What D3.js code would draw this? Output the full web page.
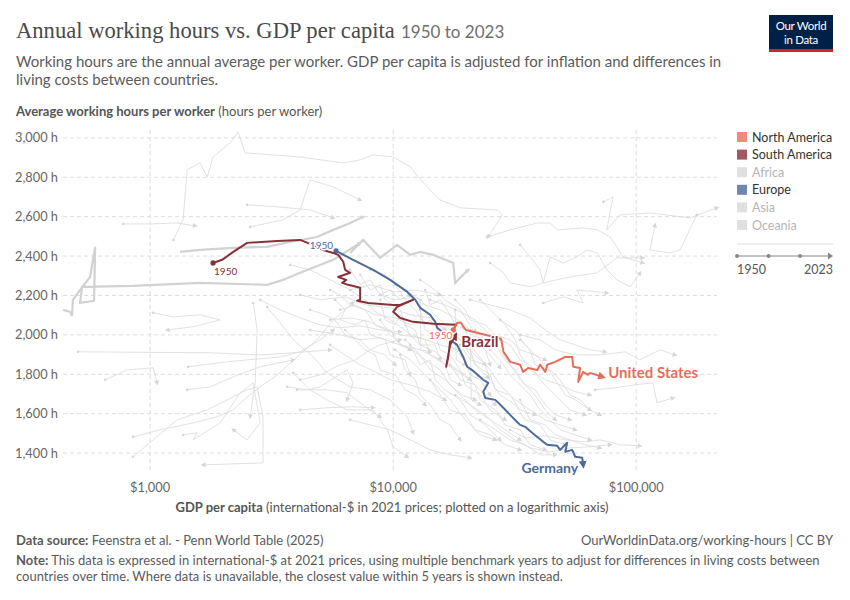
<!DOCTYPE html>
<html>
<head>
<meta charset="utf-8">
<script src="https://cdn.jsdelivr.net/npm/d3@7"></script>
<style>
  body { margin: 0; background: #fff; }
  svg { font-family: Lato, "Noto Sans", sans-serif; }
</style>
</head>
<body>
<svg id="chart" width="850" height="600"></svg>
<script>
// axis ticks
var xTicks = [1000, 10000, 100000];
var yTicks = [1400, 1600, 1800, 2000, 2200, 2400, 2600, 2800, 3000];

var continents = ["North America", "South America", "Africa", "Europe", "Asia", "Oceania"];
var continentColors = ["#E56E5A", "#883039", "#e0e0e0", "#4C6A9C", "#e0e0e0", "#e0e0e0"];
var activeContinents = ["North America", "South America", "Europe"];

// highlighted countries: [gdp per capita, hours]
var brazil = [[1815,2365],[1978,2381],[2198,2421],[2506,2467],[3336,2477],[4142,2482],[4552,2462],[5152,2431],[5666,2416],[5940,2406],[6230,2371],[6345,2330],[6653,2315],[5940,2294],[6410,2279],[6170,2264],[6530,2254],[7313,2239],[7313,2178],[7110,2173],[7890,2162],[10000,2152],[10690,2152],[12080,2178],[10380,2142],[10000,2117],[10690,2086],[12080,2066],[14630,2056],[18170,2051],[17330,2010],[16830,1883],[16520,1838],[17160,1949],[17990,1995]];
var germany = [[5821,2426],[6840,2381],[8272,2330],[9724,2279],[11430,2218],[12330,2178],[12920,2137],[14200,2102],[14890,2066],[15180,2036],[16370,2000],[17160,1975],[18320,1949],[19410,1888],[20170,1838],[21350,1817],[23470,1772],[24600,1756],[23470,1711],[23920,1680],[26310,1670],[28120,1635],[30290,1594],[32360,1558],[33300,1543],[34920,1533],[37300,1503],[39170,1482],[41440,1457],[43040,1442],[47320,1437],[48630,1416],[52010,1452],[51050,1406],[54540,1416],[56130,1381],[59980,1376],[60500,1340]];
var unitedStates = [[17670,2025],[18320,2061],[19060,2061],[19410,2041],[19950,2025],[27810,1980],[28430,1914],[30290,1863],[33300,1848],[34270,1812],[35940,1832],[39170,1822],[40240,1848],[42270,1812],[43040,1848],[46450,1863],[51050,1888],[54540,1888],[55080,1838],[58770,1832],[57700,1761],[60500,1812],[63300,1797],[64600,1807],[72440,1787]];

// other countries, greyed out (thick ones first)
var greyThick = [
  [[438,2127],[469,2117],[477,2096],[481,2178],[515,2228],[566,2294],[594,2447],[588,2173],[515,2162],[525,2244],[851,2249],[1606,2264],[3030,2254],[3520,2279],[4142,2315],[5666,2381],[7313,2467]],
  [[1328,2421],[1606,2431],[2198,2442],[3030,2447],[3767,2472],[4860,2497],[5666,2533],[6653,2568],[7520,2599]],
  [[6653,2416],[7520,2482],[8845,2391],[10380,2457],[11750,2406],[12920,2421],[14630,2406],[17670,2365],[17990,2264],[20350,2330]]
];
var greyThin = [
  [[1246,2482],[1367,2584],[1420,2838],[1606,2873],[1718,2802],[1815,2903],[2134,2975],[2300,3030],[2459,2924],[4142,2903],[6230,2873],[7313,2888],[8272,2914],[10000,2903],[11750,2853],[12680,2802],[13810,2751],[15610,2685],[18870,2645],[26850,2634],[28120,2609],[24600,2497]],
  [[774,2563],[1000,2563],[1292,2568],[1532,2553]],
  [[2506,2660],[3336,2650],[4552,2634],[5666,2594]],
  [[2580,2548],[3520,2584],[4142,2634],[4552,2787],[5666,2751],[7313,2685]],
  [[24320,2497],[30290,2533],[39170,2568],[44240,2568],[47320,2533],[60500,2543],[69160,2533],[78070,2497],[83270,2447],[88000,2396],[106500,2365]],
  [[73300,2675],[80400,2701],[78070,2624],[75800,2533],[85830,2609],[114000,2619],[166500,2594],[215000,2645]],
  [[177600,2609],[151400,2431],[137700,2416],[114000,2431],[119400,2558]],
  [[33300,2457],[36600,2396],[40240,2330],[41440,2264],[44240,2396],[50050,2365],[57040,2396],[62700,2431],[69160,2416],[75800,2330],[83270,2279],[94350,2244],[103700,2315]],
  [[25060,2365],[28430,2315],[30290,2264],[36600,2244],[43040,2269],[53460,2294],[69160,2315],[83270,2391],[106500,2391]],
  [[41440,2162],[50050,2193],[60500,2162],[57040,2228],[75800,2213]],
  [[1029,2112],[1246,2091],[1606,2102],[1941,2076],[1503,2041],[1175,2025]],
  [[505,1914],[1766,1909],[2836,1898],[3880,1909],[5505,1924]],
  [[653,1772],[804,1822],[1029,1833],[1069,1756]],
  [[1433,1838],[2075,1863],[2506,1873],[3118,1883],[3428,1888],[4142,1914],[5008,1975],[5666,2025]],
  [[851,1482],[1099,1518],[1503,1553],[1887,1584],[2198,1619],[2506,1685],[2836,1736],[3336,1797],[4020,1888],[4860,1975],[5666,2076],[6840,2162]],
  [[851,1381],[1029,1467],[1292,1569],[1718,1619],[2198,1685],[2506,1721],[2757,1736],[2914,1584],[2914,1350],[1652,1340]],
  [[1367,1492],[1560,1503],[1503,1467],[1941,1553],[2344,1706],[2655,1756],[2836,1553],[2506,1467],[2198,1518]],
  [[2655,2162],[2757,2025],[2705,1756],[2580,1584]],
  [[3030,2142],[3428,2061],[3880,1975],[4690,1888],[5340,1807],[6653,1736],[8036,1721],[9724,1670],[11430,1584],[12080,1503]],
  [[4020,1721],[5340,1721],[6460,1706],[7800,1630],[8845,1584]],
  [[4142,1619],[5340,1630],[6840,1635],[8272,1630]],
  [[3660,1736],[4425,1721],[5008,1736],[6460,1822],[6840,1756],[6460,1670]],
  [[1420,1721],[1766,1736],[2198,1787],[2836,1838],[3880,1873]],
  [[3880,1807],[4552,1721],[5340,1670],[6460,1619],[8272,1619],[9450,1518],[10000,1432],[11430,1381]],
  [[4142,2203],[5008,2178],[6345,2193],[7670,2152],[9724,2137],[11750,2102],[14200,2086],[16370,2025]],
  [[5505,2076],[6653,2086],[8036,2066],[9270,2025],[10690,2000],[12920,1985],[15610,1949],[18870,1924]],
  [[4552,2025],[6052,2000],[7313,1975],[8845,1985],[10690,1949],[12920,1924],[15610,1873],[17990,1822],[20740,1772]],
  [[6653,2228],[7670,2178],[8435,2117],[9724,2076],[11200,2025],[12920,1949],[14890,1914],[17160,1848],[19780,1797],[22800,1721],[26310,1645]],
  [[8845,2203],[10190,2178],[11750,2188],[13540,2152],[15610,2127],[17990,2086],[20740,2025],[22800,1949],[25060,1898],[27550,1833]],
  [[11200,1975],[12920,1898],[14200,1822],[16370,1772],[18870,1695],[21740,1619],[25060,1569],[28910,1518],[33300,1467]],
  [[14200,2178],[16370,2152],[18870,2117],[21740,2076],[25060,2000],[27550,1924],[30290,1848],[33300,1772],[38380,1695],[42270,1619],[46450,1569]],
  [[20740,1949],[22800,1883],[25060,1822],[27550,1746],[31770,1670],[36600,1619],[42270,1569],[48630,1543],[56130,1518]],
  [[17990,1695],[20740,1645],[23920,1594],[27550,1518],[31770,1467],[36600,1426],[44240,1406],[53460,1426],[64600,1432],[78070,1442]],
  [[27550,2076],[31770,2025],[34920,1949],[38380,1898],[42270,1848],[46450,1772],[51050,1695],[56130,1670],[64600,1619]],
  [[20740,2178],[25060,2152],[30290,2127],[36600,2086],[42270,2025],[48630,1975],[56130,1949],[64600,1924],[74470,1914]],
  [[33300,2000],[40240,1975],[46450,1924],[56130,1898],[71020,1898],[90150,1914],[103700,1873],[125300,1924],[144500,1898]],
  [[67760,1721],[82000,1731],[97400,1746],[117000,1756],[121700,1655],[141900,1680]],
  [[6653,1569],[8036,1543],[9724,1518],[11750,1467],[14200,1416],[17160,1391],[20740,1376]],
  [[12920,2279],[14890,2228],[16370,2178],[18870,2127],[20740,2051],[22370,1975]],
  [[10190,1924],[11750,1873],[13540,1797],[15610,1721],[17160,1670],[19780,1569],[22800,1492],[26310,1467]],
  [[2836,2178],[3428,2127],[4142,2086],[5008,2051],[6052,2036],[7313,2046],[8845,2025],[10690,2015]],
  [[5505,1949],[6345,1898],[7313,1848],[8435,1812],[9724,1772],[11750,1746],[14200,1711],[16370,1670]],
  [[30290,1518],[34920,1477],[42270,1487],[51050,1467],[61630,1457],[71020,1467],[85830,1442],[103700,1437]],
  [[22800,2178],[26310,2102],[28910,2051],[31770,1975],[33300,1898],[36600,1822],[42270,1772],[48630,1746],[56130,1711],[64600,1695]],
  [[3767,2355],[4552,2330],[5505,2279],[6653,2228],[8036,2254],[10190,2218],[12330,2228],[15610,2203]],
  [[8036,2330],[9270,2305],[10190,2254],[11200,2228],[12920,2178],[15610,2076],[17990,2000],[19780,1949],[21740,1898],[23920,1848]],
  [[6052,2127],[6980,2152],[8435,2102],[10190,2086],[11750,2051],[13540,2066],[16370,2036],[18870,1975],[20740,1898],[22370,1833],[24600,1782]],
  [[8845,2076],[9724,2000],[10890,1949],[12330,1914],[13540,1873],[15610,1822],[17160,1746],[19240,1695],[21740,1670]],
  [[4142,1772],[5008,1797],[6052,1848],[6980,1873],[8036,1924],[8845,1949],[10690,1975]],
  [[5770,2178],[6345,2127],[6052,2076],[6980,2051],[7670,2076],[8036,2000],[9270,1975],[9724,1898],[11200,1873],[11750,1797]],
  [[7313,2305],[8036,2228],[8845,2254],[9270,2178],[10690,2127],[11200,2051],[12330,2025],[12920,1949],[14890,1949],[15610,1873]],
  [[8845,2178],[9270,2076],[10190,2051],[10690,2102],[11750,2000],[13540,1975],[14200,1898],[16370,1848],[17160,1772],[18870,1746]],
  [[10190,2254],[11200,2178],[12330,2127],[13540,2051],[14200,2076],[16370,1975],[17990,1924],[19780,1873],[20740,1797],[22800,1772],[25060,1695]],
  [[12920,2127],[13540,2025],[14890,2000],[15610,1924],[17160,1898],[18870,1822],[19780,1746],[22800,1695],[25060,1619],[28910,1569]],
  [[11750,1949],[12920,1848],[14200,1873],[14890,1772],[16370,1721],[18870,1670],[20740,1594],[23920,1543],[27550,1467]],
  [[15610,2025],[17160,2000],[17990,1949],[20740,1924],[21740,1848],[25060,1797],[26310,1721],[30290,1695],[33300,1619],[38380,1594]],
  [[18870,1949],[20740,1873],[23920,1848],[25060,1772],[27550,1695],[31770,1645],[34920,1569],[40240,1543],[44240,1467],[51050,1442]],
  [[21740,2025],[23920,1975],[26310,1949],[28910,1873],[31770,1822],[34920,1746],[38380,1721],[42270,1645],[46450,1594],[53460,1569]],
  [[17160,1848],[18870,1772],[21740,1746],[22800,1670],[26310,1619],[28910,1543],[33300,1518],[36600,1442],[42270,1416]],
  [[25060,1924],[27550,1873],[30290,1797],[33300,1746],[36600,1695],[40240,1619],[44240,1569],[48630,1518],[56130,1492],[64600,1467]],
  [[27550,1975],[30290,1949],[33300,1873],[36600,1848],[40240,1772],[44240,1721],[48630,1670],[53460,1619],[61630,1594]],
  [[14200,1772],[15610,1695],[17160,1619],[19780,1594],[21740,1518],[25060,1492],[28910,1442],[33300,1416]],
  [[6345,2025],[6980,1975],[7670,1924],[8435,1898],[8845,1822],[10190,1797],[11200,1721],[12330,1695],[13540,1645]],
  [[4552,2127],[5250,2102],[5770,2076],[6345,2000],[7313,1975],[8036,1924],[9270,1898],[10190,1848]],
  [[13540,2228],[14200,2152],[15610,2178],[17160,2102],[17990,2051],[19780,2025],[20740,1975],[23920,1924],[25060,1848]],
  [[33300,1975],[36600,1924],[38380,1848],[44240,1822],[48630,1772],[53460,1695],[58770,1670],[64600,1619],[71020,1594]],
  [[10690,1898],[11200,1822],[12330,1772],[12920,1695],[14200,1645],[15610,1569],[17160,1543],[18870,1467]],
  [[5505,2228],[6052,2203],[6653,2152],[7670,2127],[8435,2051],[9724,2025],[10690,1949],[11750,1924]],
  [[17990,2178],[19780,2127],[20740,2076],[23920,2051],[26310,2000],[30290,1975],[33300,1924],[38380,1898],[42270,1873]],
  [[12920,2178],[13010,1924],[14200,1914]],
  [[17990,2127],[18180,1873],[19780,1848]],
  [[20740,2025],[20950,1670],[22800,1645]],
  [[6653,2330],[7313,2254],[8036,2279],[8845,2203],[9724,2228],[10690,2178],[11750,2203]],
  [[33300,1670],[36600,1569],[42270,1543],[46450,1492],[53460,1467],[61630,1442],[71020,1426]],
  [[22800,1569],[26310,1518],[30290,1467],[34920,1442],[40240,1391],[46450,1391]]
];

var svg = d3.select("#chart");

// header
var title = svg.append("text")
    .attr("x", 16).attr("y", 38)
    .style("font-family", "'Liberation Serif', 'DejaVu Serif', serif")
    .style("font-size", "26px")
    .style("fill", "#4a4a4a")
    .text("Annual working hours vs. GDP per capita");
var tw = title.node().getComputedTextLength();
title.style("font-size", (26 * 379 / tw) + "px");

svg.append("text")
    .attr("x", 401).attr("y", 38)
    .style("font-size", "17px")
    .style("fill", "#6e6e6e")
    .text("1950 to 2023");

var subtitle = ["Working hours are the annual average per worker. GDP per capita is adjusted for inflation and differences in",
                "living costs between countries."];
svg.selectAll(".sub").data(subtitle).enter().append("text")
    .attr("x", 16).attr("y", function(d, i) { return 67 + i * 18; })
    .style("font-size", "15px")
    .style("fill", "#5b5b5b")
    .text(function(d) { return d; });

// logo
var logo = svg.append("g").attr("transform", "translate(769,15)");
logo.append("rect").attr("width", 64).attr("height", 37).attr("fill", "#002147");
logo.append("rect").attr("y", 34).attr("width", 64).attr("height", 3).attr("fill", "#ce261e");
logo.append("text").attr("x", 32).attr("y", 15).attr("text-anchor", "middle")
    .style("font-size", "11.5px").style("fill", "#fff").style("letter-spacing", "-0.3px").text("Our World");
logo.append("text").attr("x", 32).attr("y", 29).attr("text-anchor", "middle")
    .style("font-size", "11.5px").style("fill", "#fff").style("letter-spacing", "-0.3px").text("in Data");

// y axis title
var yt = svg.append("text").attr("x", 16).attr("y", 116).style("font-size", "13px").style("fill", "#555");
yt.append("tspan").style("font-weight", 700).text("Average working hours per worker");
yt.append("tspan").text(" (hours per worker)");

// scales
var x = d3.scaleLog().domain([438, 215000]).range([63, 717]);
var y = d3.scaleLinear().domain([1314, 3040]).range([470, 130]);

// grid
svg.append("g").selectAll("line").data(yTicks).enter().append("line")
    .attr("x1", 63).attr("x2", 717)
    .attr("y1", function(d) { return y(d); }).attr("y2", function(d) { return y(d); })
    .attr("stroke", "#ddd").attr("stroke-dasharray", "4,3");
svg.append("g").selectAll("line").data(xTicks).enter().append("line")
    .attr("x1", function(d) { return x(d); }).attr("x2", function(d) { return x(d); })
    .attr("y1", 130).attr("y2", 470)
    .attr("stroke", "#ddd").attr("stroke-dasharray", "4,3");

svg.append("g").selectAll("text").data(yTicks).enter().append("text")
    .attr("x", 58).attr("y", function(d) { return y(d) + 4.5; })
    .attr("text-anchor", "end")
    .style("font-size", "12.8px").style("fill", "#666")
    .text(function(d) { return d3.format(",")(d) + " h"; });
svg.append("g").selectAll("text").data(xTicks).enter().append("text")
    .attr("x", function(d) { return x(d); }).attr("y", 492)
    .attr("text-anchor", "middle")
    .style("font-size", "12.8px").style("fill", "#666")
    .text(function(d) { return "$" + d3.format(",")(d); });

var xt = svg.append("text").attr("x", 392).attr("y", 512).attr("text-anchor", "middle")
    .style("font-size", "13px").style("fill", "#555");
xt.append("tspan").style("font-weight", 700).text("GDP per capita");
xt.append("tspan").text(" (international-$ in 2021 prices; plotted on a logarithmic axis)");

// markers
var defs = svg.append("defs");
function arrow(id, color, size) {
  defs.append("marker").attr("id", id)
      .attr("viewBox", "0 0 10 10").attr("refX", 5).attr("refY", 5)
      .attr("markerWidth", size).attr("markerHeight", size)
      .attr("markerUnits", "userSpaceOnUse")
      .attr("orient", "auto")
    .append("path").attr("d", "M0,0L10,5L0,10z").attr("fill", color);
}
arrow("a-grey", "#d6d6d6", 5);
arrow("a-na", continentColors[0], 8);
arrow("a-sa", continentColors[1], 8);
arrow("a-eu", continentColors[3], 8);

var line = d3.line().x(function(d) { return x(d[0]); }).y(function(d) { return y(d[1]); });

var plot = svg.append("g");

plot.selectAll(".thin").data(greyThin).enter().append("path")
    .attr("d", line).attr("fill", "none")
    .attr("stroke", "#d9d9d9").attr("stroke-width", 0.8)
    .attr("marker-end", "url(#a-grey)");
plot.selectAll(".thinDot").data(greyThin).enter().append("circle")
    .attr("cx", function(d) { return x(d[0][0]); })
    .attr("cy", function(d) { return y(d[0][1]); })
    .attr("r", 1.3).attr("fill", "#d6d6d6");
plot.selectAll(".thick").data(greyThick).enter().append("path")
    .attr("d", line).attr("fill", "none")
    .attr("stroke", "#d2d2d2").attr("stroke-width", 2.2)
    .attr("marker-end", "url(#a-grey)");

var highlighted = [
  {name: "Germany", data: germany, color: continentColors[3], marker: "a-eu"},
  {name: "Brazil", data: brazil, color: continentColors[1], marker: "a-sa"},
  {name: "United States", data: unitedStates, color: continentColors[0], marker: "a-na"}
];

highlighted.forEach(function(c) {
  plot.append("path").datum(c.data)
      .attr("d", line).attr("fill", "none")
      .attr("stroke", c.color).attr("stroke-width", 2)
      .attr("stroke-linejoin", "round")
      .attr("marker-end", "url(#" + c.marker + ")");
  plot.append("circle")
      .attr("cx", x(c.data[0][0])).attr("cy", y(c.data[0][1]))
      .attr("r", 2.6).attr("fill", c.color);
});

function halo(sel) {
  return sel.style("paint-order", "stroke").attr("stroke", "#fff")
      .attr("stroke-width", 3).attr("stroke-linejoin", "round");
}

// start year labels
halo(plot.append("text").attr("x", x(brazil[0][0]) + 1).attr("y", y(brazil[0][1]) + 12)
    .style("font-size", "10px").style("fill", continentColors[1]).text("1950"));
halo(plot.append("text").attr("x", x(germany[0][0]) - 3).attr("y", y(germany[0][1]) - 2)
    .attr("text-anchor", "end")
    .style("font-size", "10px").style("fill", continentColors[3]).text("1950"));
halo(plot.append("text").attr("x", x(unitedStates[0][0]) - 1).attr("y", y(unitedStates[0][1]) + 9)
    .attr("text-anchor", "end")
    .style("font-size", "10px").style("fill", continentColors[0]).text("1950"));

// end labels
var bEnd = brazil[brazil.length - 1], gEnd = germany[germany.length - 1], uEnd = unitedStates[unitedStates.length - 1];
halo(plot.append("text").attr("x", x(bEnd[0]) + 6).attr("y", y(bEnd[1]) + 11)
    .style("font-size", "15px").style("font-weight", 700).style("fill", continentColors[1]).text("Brazil"));
halo(plot.append("text").attr("x", x(uEnd[0]) + 6).attr("y", y(uEnd[1]) + 1)
    .style("font-size", "15px").style("font-weight", 700).style("fill", continentColors[0]).text("United States"));
halo(plot.append("text").attr("x", x(gEnd[0]) - 5).attr("y", y(gEnd[1]) + 8)
    .attr("text-anchor", "end")
    .style("font-size", "14px").style("font-weight", 700).style("fill", continentColors[3]).text("Germany"));

// legend
var legend = svg.append("g").attr("transform", "translate(737,132)");
var item = legend.selectAll("g").data(continents).enter().append("g")
    .attr("transform", function(d, i) { return "translate(0," + (i * 17.6) + ")"; });
item.append("rect").attr("width", 10).attr("height", 10)
    .attr("fill", function(d, i) { return continentColors[i]; })
    .attr("opacity", function(d) { return activeContinents.indexOf(d) >= 0 ? 0.8 : 1; });
item.append("text").attr("x", 15).attr("y", 9.5)
    .style("font-size", "12.5px")
    .style("fill", function(d) { return activeContinents.indexOf(d) >= 0 ? "#333" : "#b5b5b5"; })
    .text(function(d) { return d; });

legend.append("line").attr("x1", 0).attr("x2", 96).attr("y1", 112).attr("y2", 112).attr("stroke", "#ddd");
var years = [1950, 2023];
var tl = d3.scaleLinear().domain(years).range([0, 96]);
legend.append("line").attr("x1", tl(1950)).attr("x2", tl(2023) - 4).attr("y1", 124).attr("y2", 124)
    .attr("stroke", "#888").attr("stroke-width", 1);
legend.append("path").attr("d", "M" + (tl(2023) - 5) + ",120.5L" + tl(2023) + ",124L" + (tl(2023) - 5) + ",127.5z").attr("fill", "#888");
legend.selectAll(".dot").data([1950, 1974, 1998]).enter().append("circle")
    .attr("cx", function(d) { return tl(d); }).attr("cy", 124).attr("r", 2).attr("fill", "#888");
legend.append("text").attr("x", 0).attr("y", 142).style("font-size", "12.5px").style("fill", "#555").text("1950");
legend.append("text").attr("x", 96).attr("y", 142).attr("text-anchor", "end").style("font-size", "12.5px").style("fill", "#555").text("2023");

// footer
var src = svg.append("text").attr("x", 16).attr("y", 545).style("font-size", "13px").style("fill", "#5b5b5b");
src.append("tspan").style("font-weight", 700).text("Data source:");
src.append("tspan").text(" Feenstra et al. - Penn World Table (2025)");
svg.append("text").attr("x", 833).attr("y", 545).attr("text-anchor", "end")
    .style("font-size", "13px").style("fill", "#5b5b5b")
    .text("OurWorldinData.org/working-hours | CC BY");
var note = svg.append("text").attr("x", 16).attr("y", 565).style("font-size", "13px").style("fill", "#5b5b5b");
note.append("tspan").style("font-weight", 700).text("Note:");
note.append("tspan").text(" This data is expressed in international-$ at 2021 prices, using multiple benchmark years to adjust for differences in living costs between");
svg.append("text").attr("x", 16).attr("y", 581).style("font-size", "13px").style("fill", "#5b5b5b")
    .text("countries over time. Where data is unavailable, the closest value within 5 years is shown instead.");
</script>
</body>
</html>
